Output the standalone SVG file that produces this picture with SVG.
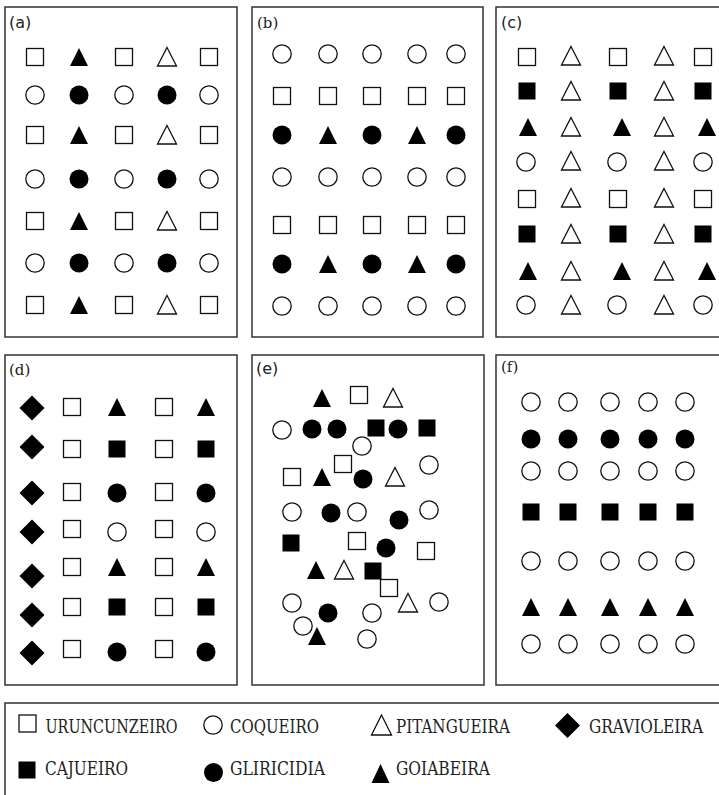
<svg xmlns="http://www.w3.org/2000/svg" xmlns:xlink="http://www.w3.org/1999/xlink" width="719" height="795" viewBox="0 0 719 795">
<style>
.box{fill:#fff;stroke:#333;stroke-width:1.5}
.o{fill:#fff;stroke:#111;stroke-width:1.3}
.f{fill:#000;stroke:none}
.lbls{font-family:"DejaVu Sans","Liberation Sans",sans-serif;font-size:16px;fill:#222}
.lblr{font-family:"DejaVu Serif","Liberation Serif",serif;font-size:15px;fill:#222}
.leg{font-family:"DejaVu Serif","Liberation Serif",serif;font-size:18px;font-stretch:condensed;fill:#222}
</style>
<defs>
<rect id="sq" class="o" x="-8.5" y="-8.5" width="17" height="17"/>
<rect id="fsq" class="f" x="-8.5" y="-8.5" width="17" height="17"/>
<circle id="ci" class="o" r="9.2"/>
<circle id="fci" class="f" r="9.5"/>
<polygon id="tr" class="o" points="0,-9.5 9.5,9 -9.5,9"/>
<polygon id="ftr" class="f" points="0,-9 9,9 -9,9"/>
<polygon id="dia" class="f" points="0,-12.5 12.5,0 0,12.5 -12.5,0"/>
</defs>
<rect width="719" height="795" fill="#fff"/>

<g id="panel-a">
<rect class="box" x="5" y="7" width="232" height="330"/>
<text class="lbls" x="9" y="28">(a)</text>
<use href="#sq" x="35" y="57"/><use href="#ftr" x="79" y="57"/><use href="#sq" x="124" y="57"/><use href="#tr" x="167" y="57"/><use href="#sq" x="209" y="57"/>
<use href="#ci" x="35" y="95"/><use href="#fci" x="79" y="95"/><use href="#ci" x="124" y="95"/><use href="#fci" x="167" y="95"/><use href="#ci" x="209" y="95"/>
<use href="#sq" x="35" y="135"/><use href="#ftr" x="79" y="135"/><use href="#sq" x="124" y="135"/><use href="#tr" x="167" y="135"/><use href="#sq" x="209" y="135"/>
<use href="#ci" x="35" y="179"/><use href="#fci" x="79" y="179"/><use href="#ci" x="124" y="179"/><use href="#fci" x="167" y="179"/><use href="#ci" x="209" y="179"/>
<use href="#sq" x="35" y="221"/><use href="#ftr" x="79" y="221"/><use href="#sq" x="124" y="221"/><use href="#tr" x="167" y="221"/><use href="#sq" x="209" y="221"/>
<use href="#ci" x="35" y="263"/><use href="#fci" x="79" y="263"/><use href="#ci" x="124" y="263"/><use href="#fci" x="167" y="263"/><use href="#ci" x="209" y="263"/>
<use href="#sq" x="35" y="305"/><use href="#ftr" x="79" y="305"/><use href="#sq" x="124" y="305"/><use href="#tr" x="167" y="305"/><use href="#sq" x="209" y="305"/>
</g>

<g id="panel-b">
<rect class="box" x="252" y="7" width="231" height="330"/>
<text class="lblr" x="257" y="28">(b)</text>
<use href="#ci" x="282" y="54"/><use href="#ci" x="328" y="54"/><use href="#ci" x="372" y="54"/><use href="#ci" x="417" y="54"/><use href="#ci" x="456" y="54"/>
<use href="#sq" x="282" y="96"/><use href="#sq" x="328" y="96"/><use href="#sq" x="372" y="96"/><use href="#sq" x="417" y="96"/><use href="#sq" x="456" y="96"/>
<use href="#fci" x="282" y="135"/><use href="#ftr" x="328" y="135"/><use href="#fci" x="372" y="135"/><use href="#ftr" x="417" y="135"/><use href="#fci" x="456" y="135"/>
<use href="#ci" x="282" y="177"/><use href="#ci" x="328" y="177"/><use href="#ci" x="372" y="177"/><use href="#ci" x="417" y="177"/><use href="#ci" x="456" y="177"/>
<use href="#sq" x="282" y="225"/><use href="#sq" x="328" y="225"/><use href="#sq" x="372" y="225"/><use href="#sq" x="417" y="225"/><use href="#sq" x="456" y="225"/>
<use href="#fci" x="282" y="264"/><use href="#ftr" x="328" y="264"/><use href="#fci" x="372" y="264"/><use href="#ftr" x="417" y="264"/><use href="#fci" x="456" y="264"/>
<use href="#ci" x="282" y="306"/><use href="#ci" x="328" y="306"/><use href="#ci" x="372" y="306"/><use href="#ci" x="417" y="306"/><use href="#ci" x="456" y="306"/>
</g>

<g id="panel-c">
<rect class="box" x="496" y="7" width="240" height="330"/>
<text class="lbls" x="501" y="28">(c)</text>
<use href="#sq" x="527" y="57"/><use href="#tr" x="571" y="56"/><use href="#sq" x="618" y="57"/><use href="#tr" x="664" y="56"/><use href="#sq" x="703" y="57"/>
<use href="#fsq" x="527" y="91"/><use href="#tr" x="571" y="91"/><use href="#fsq" x="618" y="91"/><use href="#tr" x="664" y="91"/><use href="#fsq" x="703" y="91"/>
<use href="#ftr" x="528" y="127"/><use href="#tr" x="571" y="127"/><use href="#ftr" x="622" y="127"/><use href="#tr" x="664" y="127"/><use href="#ftr" x="707" y="127"/>
<use href="#ci" x="526" y="162"/><use href="#tr" x="571" y="161"/><use href="#ci" x="617" y="162"/><use href="#tr" x="664" y="161"/><use href="#ci" x="703" y="162"/>
<use href="#sq" x="527" y="199"/><use href="#tr" x="571" y="198"/><use href="#sq" x="618" y="199"/><use href="#tr" x="664" y="198"/><use href="#sq" x="703" y="199"/>
<use href="#fsq" x="527" y="234"/><use href="#tr" x="571" y="234"/><use href="#fsq" x="618" y="234"/><use href="#tr" x="664" y="234"/><use href="#fsq" x="703" y="234"/>
<use href="#ftr" x="528" y="271"/><use href="#tr" x="571" y="271"/><use href="#ftr" x="622" y="271"/><use href="#tr" x="664" y="271"/><use href="#ftr" x="707" y="271"/>
<use href="#ci" x="526" y="305"/><use href="#tr" x="571" y="305"/><use href="#ci" x="617" y="305"/><use href="#tr" x="664" y="305"/><use href="#ci" x="703" y="305"/>
</g>

<g id="panel-d">
<rect class="box" x="5" y="355" width="232" height="330"/>
<text class="lblr" x="9" y="375">(d)</text>
<use href="#dia" x="32" y="408"/><use href="#sq" x="72" y="407"/><use href="#ftr" x="117" y="407"/><use href="#sq" x="164" y="407"/><use href="#ftr" x="206" y="407"/>
<use href="#dia" x="32" y="447"/><use href="#sq" x="72" y="449"/><use href="#fsq" x="117" y="449"/><use href="#sq" x="164" y="449"/><use href="#fsq" x="206" y="449"/>
<use href="#dia" x="32" y="493"/><use href="#sq" x="72" y="492"/><use href="#fci" x="117" y="493"/><use href="#sq" x="164" y="492"/><use href="#fci" x="206" y="493"/>
<use href="#dia" x="32" y="532"/><use href="#sq" x="72" y="529"/><use href="#ci" x="117" y="532"/><use href="#sq" x="164" y="529"/><use href="#ci" x="206" y="532"/>
<use href="#dia" x="32" y="576"/><use href="#sq" x="72" y="567"/><use href="#ftr" x="117" y="567"/><use href="#sq" x="164" y="567"/><use href="#ftr" x="206" y="567"/>
<use href="#dia" x="32" y="615"/><use href="#sq" x="72" y="607"/><use href="#fsq" x="117" y="607"/><use href="#sq" x="164" y="607"/><use href="#fsq" x="206" y="607"/>
<use href="#dia" x="32" y="653"/><use href="#sq" x="72" y="649"/><use href="#fci" x="117" y="652"/><use href="#sq" x="164" y="649"/><use href="#fci" x="206" y="652"/>
</g>

<g id="panel-e">
<rect class="box" x="252" y="355" width="232" height="330"/>
<text class="lbls" x="256" y="374">(e)</text>
<use href="#ftr" x="322" y="398"/><use href="#sq" x="359" y="395"/><use href="#tr" x="393" y="398"/>
<use href="#ci" x="282" y="430"/><use href="#fci" x="312" y="429"/><use href="#fci" x="337" y="429"/><use href="#fsq" x="376" y="428"/><use href="#fci" x="398" y="429"/><use href="#fsq" x="427" y="428"/>
<use href="#ci" x="362" y="446"/>
<use href="#sq" x="343" y="464"/><use href="#ci" x="429" y="465"/>
<use href="#sq" x="292" y="477"/><use href="#ftr" x="322" y="477"/><use href="#fci" x="363" y="479"/><use href="#tr" x="395" y="477"/>
<use href="#ci" x="292" y="512"/><use href="#fci" x="331" y="513"/><use href="#ci" x="357" y="512"/><use href="#fci" x="399" y="520"/><use href="#ci" x="429" y="510"/>
<use href="#fsq" x="291" y="543"/><use href="#sq" x="357" y="541"/><use href="#fci" x="386" y="548"/><use href="#sq" x="426" y="551"/>
<use href="#ftr" x="316" y="570"/><use href="#tr" x="344" y="570"/><use href="#fsq" x="373" y="571"/>
<use href="#sq" x="389" y="588"/>
<use href="#tr" x="408" y="603"/><use href="#ci" x="439" y="602"/>
<use href="#ci" x="292" y="603"/><use href="#fci" x="328" y="613"/><use href="#ci" x="372" y="613"/>
<use href="#ci" x="303" y="626"/><use href="#ftr" x="317" y="636"/><use href="#ci" x="367" y="639"/>
</g>

<g id="panel-f">
<rect class="box" x="496" y="355" width="240" height="330"/>
<text class="lblr" x="501" y="372">(f)</text>
<use href="#ci" x="531" y="402"/><use href="#ci" x="568" y="402"/><use href="#ci" x="610" y="402"/><use href="#ci" x="648" y="402"/><use href="#ci" x="685" y="402"/>
<use href="#fci" x="531" y="439"/><use href="#fci" x="568" y="439"/><use href="#fci" x="610" y="439"/><use href="#fci" x="648" y="439"/><use href="#fci" x="685" y="439"/>
<use href="#ci" x="531" y="471"/><use href="#ci" x="568" y="471"/><use href="#ci" x="610" y="471"/><use href="#ci" x="648" y="471"/><use href="#ci" x="685" y="471"/>
<use href="#fsq" x="531" y="512"/><use href="#fsq" x="568" y="512"/><use href="#fsq" x="610" y="512"/><use href="#fsq" x="648" y="512"/><use href="#fsq" x="685" y="512"/>
<use href="#ci" x="531" y="561"/><use href="#ci" x="568" y="561"/><use href="#ci" x="610" y="561"/><use href="#ci" x="648" y="561"/><use href="#ci" x="685" y="561"/>
<use href="#ftr" x="531" y="607"/><use href="#ftr" x="568" y="607"/><use href="#ftr" x="610" y="607"/><use href="#ftr" x="648" y="607"/><use href="#ftr" x="685" y="607"/>
<use href="#ci" x="531" y="644"/><use href="#ci" x="568" y="644"/><use href="#ci" x="610" y="644"/><use href="#ci" x="648" y="644"/><use href="#ci" x="685" y="644"/>
</g>

<g id="legend">
<rect class="box" x="5" y="703" width="740" height="110"/>
<use href="#sq" x="27.5" y="723.5"/>
<text class="leg" x="45.5" y="733" textLength="132" lengthAdjust="spacingAndGlyphs">URUNCUNZEIRO</text>
<use href="#ci" x="213" y="725"/>
<text class="leg" x="230" y="733" textLength="89" lengthAdjust="spacingAndGlyphs">COQUEIRO</text>
<polygon class="o" points="381.5,715 391.5,735 371.5,735"/>
<text class="leg" x="396" y="733" textLength="114" lengthAdjust="spacingAndGlyphs">PITANGUEIRA</text>
<use href="#dia" x="567.5" y="725.5"/>
<text class="leg" x="589" y="733" textLength="114" lengthAdjust="spacingAndGlyphs">GRAVIOLEIRA</text>
<use href="#fsq" x="27" y="770"/>
<text class="leg" x="45" y="775" textLength="83" lengthAdjust="spacingAndGlyphs">CAJUEIRO</text>
<use href="#fci" x="213.5" y="772.5"/>
<text class="leg" x="230" y="775" textLength="95" lengthAdjust="spacingAndGlyphs">GLIRICIDIA</text>
<polygon class="f" points="380.5,764 389.5,783 371.5,783"/>
<text class="leg" x="396" y="775" textLength="94" lengthAdjust="spacingAndGlyphs">GOIABEIRA</text>
</g>
</svg>
